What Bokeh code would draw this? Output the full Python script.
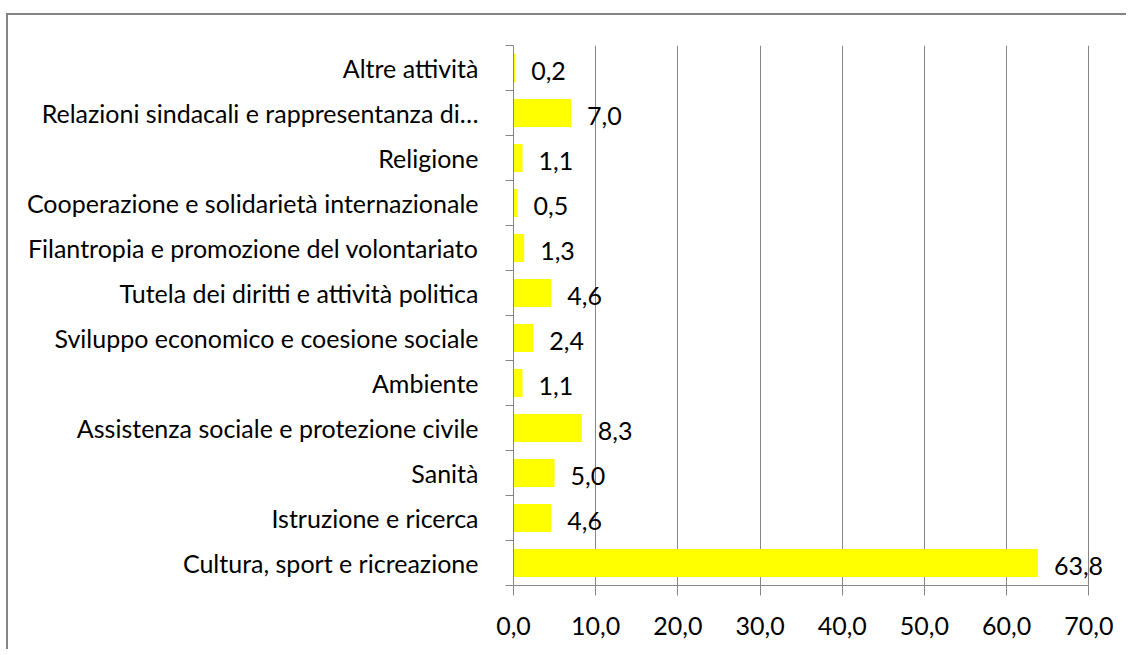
from bokeh.plotting import figure
from bokeh.models import Range1d, FixedTicker, ColumnDataSource, LabelSet
from bokeh.core.properties import value
from bokeh.embed import file_html
from bokeh.resources import INLINE

# Data (bottom to top)
categories = [
    "Cultura, sport e ricreazione",
    "Istruzione e ricerca",
    "Sanità",
    "Assistenza sociale e protezione civile",
    "Ambiente",
    "Sviluppo economico e coesione sociale",
    "Tutela dei diritti e attività politica",
    "Filantropia e promozione del volontariato",
    "Cooperazione e solidarietà internazionale",
    "Religione",
    "Relazioni sindacali e rappresentanza di…",
    "Altre attività",
]
values = [63.8, 4.6, 5.0, 8.3, 1.1, 2.4, 4.6, 1.3, 0.5, 1.1, 7.0, 0.2]
x_ticks = [0, 10, 20, 30, 40, 50, 60, 70]

FONT = "Lato"
FSIZE = "25px"
GRAY = "#868686"

def fmt(v):
    return f"{v:.1f}".replace(".", ",")

pos = list(range(len(categories)))
src = ColumnDataSource(dict(y=pos, v=values, lab=[fmt(v) for v in values]))

x_min, x_max = x_ticks[0], x_ticks[-1]

p = figure(
    width=1120, height=636,
    x_range=Range1d(x_min, x_max + 3), y_range=Range1d(-0.5, len(categories) - 0.5),
    output_backend="svg", toolbar_location=None,
    min_border_left=505, min_border_right=15, min_border_top=30, min_border_bottom=66,
)
p.styles = {"border-top": "2px solid #848484", "border-left": "2px solid #848484",
            "margin-top": "13px", "margin-left": "6px"}
p.outline_line_color = None
p.background_fill_color = "white"
p.border_fill_color = "white"

p.hbar(y="y", right="v", left=0, height=0.62, source=src,
       fill_color="#FFFF00", line_color=None)

labels = LabelSet(x="v", y="y", text="lab", source=src, x_offset=16, y_offset=-3,
                  text_font=value(FONT), text_font_size=FSIZE, text_color="black",
                  text_baseline="middle", text_align="left")
p.add_layout(labels)

# x axis
p.xaxis.ticker = FixedTicker(ticks=x_ticks)
p.xaxis.bounds = (x_min, x_max)
p.xaxis.major_label_overrides = {t: fmt(t) for t in x_ticks}
p.xaxis.axis_line_color = GRAY
p.xaxis.major_tick_line_color = GRAY
p.xaxis.major_tick_out = 10
p.xaxis.major_tick_in = 0
p.xaxis.minor_tick_line_color = None
p.xaxis.major_label_text_font = FONT
p.xaxis.major_label_text_font_size = FSIZE
p.xaxis.major_label_text_color = "black"
p.xaxis.major_label_standoff = 21

# y axis
p.yaxis.ticker = FixedTicker(ticks=pos, minor_ticks=[i - 0.5 for i in range(len(categories) + 1)])
p.yaxis.major_label_overrides = {i: c for i, c in enumerate(categories)}
p.yaxis.axis_line_color = GRAY
p.yaxis.major_tick_line_color = None
p.yaxis.major_tick_out = 0
p.yaxis.major_tick_in = 0
p.yaxis.minor_tick_line_color = GRAY
p.yaxis.minor_tick_out = 8
p.yaxis.minor_tick_in = 0
p.yaxis.major_label_text_font = FONT
p.yaxis.major_label_text_font_size = FSIZE
p.yaxis.major_label_text_color = "black"
p.yaxis.major_label_standoff = 27

p.xgrid.grid_line_color = GRAY
p.xgrid.grid_line_width = 1
p.xgrid.bounds = (x_min, x_max)
p.ygrid.grid_line_color = None

open("out.html", "w").write(file_html(p, INLINE))
